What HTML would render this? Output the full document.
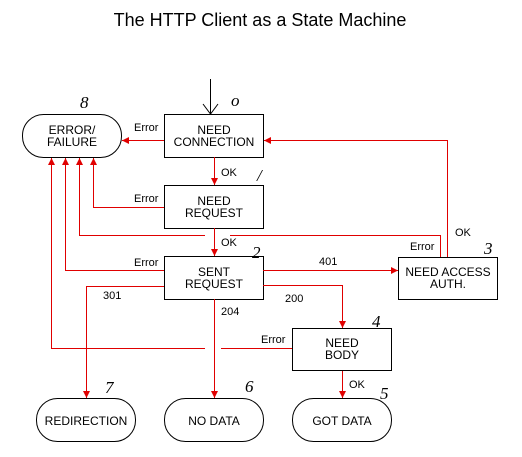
<!DOCTYPE html>
<html><head><style>body{margin:0;background:#fff}svg{display:block}</style></head><body>
<svg width="522" height="457" xmlns="http://www.w3.org/2000/svg" font-family="Liberation Sans, sans-serif">
<defs><marker id="a" viewBox="0 0 10 10" refX="10" refY="5" markerWidth="7" markerHeight="7" orient="auto-start-reverse" markerUnits="userSpaceOnUse"><path d="M0,0 L10,5 L0,10z" fill="#e00000"/></marker></defs>
<text x="260" y="26" font-size="18" text-anchor="middle">The HTTP Client as a State Machine</text>
<g fill="none" stroke="#000" stroke-width="1">
<rect x="22.5" y="114.5" width="99" height="43" rx="21"/>
<rect x="164.5" y="114.5" width="99" height="43"/>
<rect x="164.5" y="185.5" width="99" height="43"/>
<rect x="164.5" y="256.5" width="99" height="43"/>
<rect x="398.5" y="257.5" width="99" height="42"/>
<rect x="292.5" y="328.5" width="99" height="42"/>
<rect x="36.5" y="398.5" width="99" height="43" rx="21"/>
<rect x="164.5" y="398.5" width="99" height="43" rx="21"/>
<rect x="292.5" y="398.5" width="99" height="43" rx="21"/>
<path d="M210.5 79 V114 M203 104 L210.5 114 L218 104"/>
</g>
<g fill="none" stroke="#e00000" stroke-width="1">
<path d="M164 140.5 H122" marker-end="url(#a)"/>
<path d="M214.5 157 V185" marker-end="url(#a)"/>
<path d="M214.5 228 V256" marker-end="url(#a)"/>
<path d="M164 207.5 H93.5 V158" marker-end="url(#a)"/>
<path d="M205 235.5 H79.5 V158" marker-end="url(#a)"/>
<path d="M230 235.5 H440.5 V257"/>
<path d="M447.5 257 V140.5 H264" marker-end="url(#a)"/>
<path d="M164 270.5 H65.5 V158" marker-end="url(#a)"/>
<path d="M205 348.5 H51.5 V158" marker-end="url(#a)"/>
<path d="M292 348.5 H221"/>
<path d="M164 286.5 H86.5 V398" marker-end="url(#a)"/>
<path d="M214.5 299 V398" marker-end="url(#a)"/>
<path d="M263 270.5 H398" marker-end="url(#a)"/>
<path d="M263 285.5 H342.5 V328" marker-end="url(#a)"/>
<path d="M342.5 371 V398" marker-end="url(#a)"/>
</g>
<g font-size="12" text-anchor="middle">
<text x="72" y="134">ERROR/</text><text x="72" y="146">FAILURE</text>
<text x="214" y="134">NEED</text><text x="214" y="146">CONNECTION</text>
<text x="214" y="205">NEED</text><text x="214" y="217">REQUEST</text>
<text x="214" y="276">SENT</text><text x="214" y="288">REQUEST</text>
<text x="448" y="276">NEED ACCESS</text><text x="448" y="288">AUTH.</text>
<text x="342" y="347">NEED</text><text x="342" y="359">BODY</text>
<text x="86" y="425">REDIRECTION</text>
<text x="214" y="425">NO DATA</text>
<text x="342" y="425">GOT DATA</text>
</g>
<g font-size="11">
<text x="134" y="131">Error</text>
<text x="134" y="202">Error</text>
<text x="134" y="266">Error</text>
<text x="410" y="250">Error</text>
<text x="261" y="343">Error</text>
<text x="221" y="176">OK</text>
<text x="221" y="246">OK</text>
<text x="455" y="236">OK</text>
<text x="349" y="388">OK</text>
<text x="319" y="265">401</text>
<text x="103" y="299">301</text>
<text x="285" y="302">200</text>
<text x="221" y="315">204</text>
</g>
<g font-size="17" font-style="italic" font-family="Liberation Serif, serif">
<text x="80" y="108">8</text>
<text x="231" y="106">o</text>
<text x="257" y="181">/</text>
<text x="252" y="258">2</text>
<text x="484" y="254">3</text>
<text x="372" y="327">4</text>
<text x="380" y="399">5</text>
<text x="245" y="392">6</text>
<text x="105" y="393">7</text>
</g>
</svg>
</body></html>
